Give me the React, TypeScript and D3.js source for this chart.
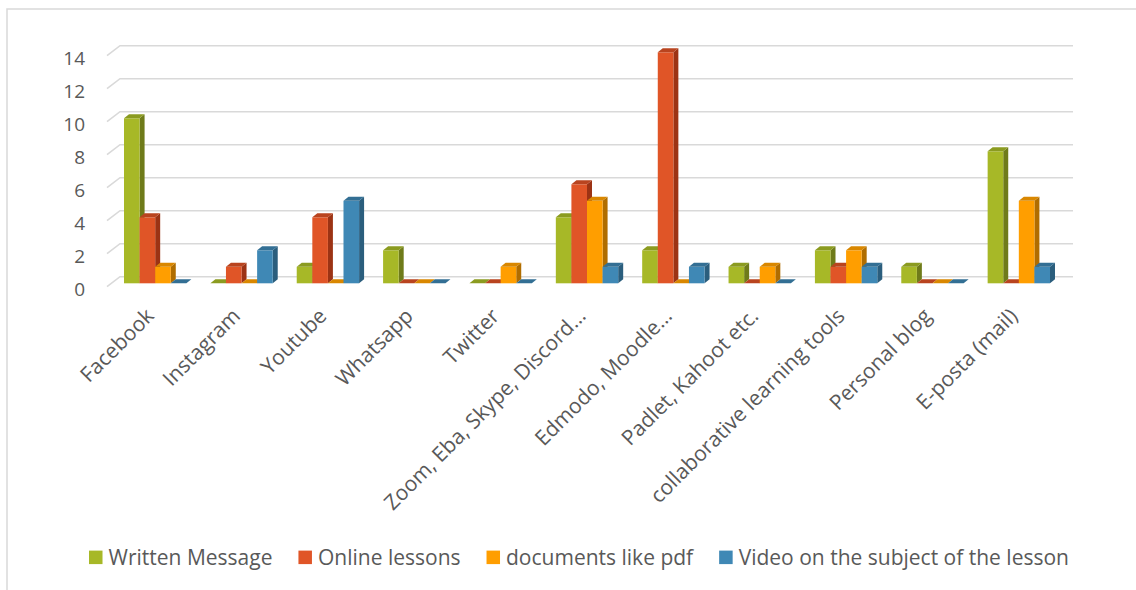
import * as d3 from "d3";
import { useEffect, useRef } from "react";

const categories = [
  "Facebook",
  "Instagram",
  "Youtube",
  "Whatsapp",
  "Twitter",
  "Zoom, Eba, Skype, Discord…",
  "Edmodo, Moodle…",
  "Padlet, Kahoot etc.",
  "collaborative learning tools",
  "Personal blog",
  "E-posta (mail)",
];
const seriesNames = [
  "Written Message",
  "Online lessons",
  "documents like pdf",
  "Video on the subject of the lesson",
];
const writtenMessage = [10, 0, 1, 2, 0, 4, 2, 1, 2, 1, 8];
const onlineLessons = [4, 1, 4, 0, 0, 6, 14, 0, 1, 0, 0];
const documentsPdf = [1, 0, 0, 0, 1, 5, 0, 1, 2, 0, 5];
const videoLesson = [0, 2, 5, 0, 0, 1, 1, 0, 1, 0, 1];
const yTicks = [0, 2, 4, 6, 8, 10, 12, 14];

// front, side, top
const palette = [
  ["#a7b827", "#6f7b1a", "#8b9b20"],
  ["#e05527", "#9c3314", "#b9441f"],
  ["#ff9e00", "#b06d00", "#d98700"],
  ["#3f88b5", "#2b5e7d", "#336f94"],
];

const FONT = "'Open Sans', sans-serif";
const TEXT = "#595959";
const GRID = "#d9d9d9";

const App = () => {
  const ref = useRef<SVGSVGElement | null>(null);

  useEffect(() => {
    const svg = d3.select(ref.current);
    svg.selectAll("*").remove();

    const series = [writtenMessage, onlineLessons, documentsPdf, videoLesson];

    // outer frame
    svg
      .append("rect")
      .attr("x", 7)
      .attr("y", 9)
      .attr("width", 1200)
      .attr("height", 700)
      .attr("fill", "none")
      .attr("stroke", GRID)
      .attr("stroke-width", 1.5);

    const x = d3
      .scaleBand<string>()
      .domain(categories)
      .range([112, 1062])
      .paddingInner(0.278)
      .paddingOuter(0.139);
    const xs = d3
      .scaleBand<string>()
      .domain(seriesNames)
      .range([0, x.bandwidth()]);
    const y = d3.scaleLinear().domain([0, 14]).range([283.3, 52.3]);

    const [r0, r1] = x.range();
    const wallDx = 8,
      wallDy = -6.6;
    const dx = 5,
      dy = -4;

    // gridlines on back wall + floor diagonal
    const grid = svg.append("g");
    yTicks.forEach((v) => {
      const yb = y(v) + wallDy;
      grid
        .append("path")
        .attr(
          "d",
          `M${r0 - 5},${y(v) + 3.4}L${r0 + wallDx},${yb}L${r1 + 11},${yb}`
        )
        .attr("fill", "none")
        .attr("stroke", GRID)
        .attr("stroke-width", 1.6);
    });

    // y tick labels
    svg
      .append("g")
      .selectAll("text")
      .data(yTicks)
      .enter()
      .append("text")
      .attr("x", r0 - 27)
      .attr("y", (d) => y(d) + 12.5)
      .attr("text-anchor", "end")
      .attr("font-family", FONT)
      .attr("font-size", 19)
      .attr("fill", TEXT)
      .text((d) => d);

    // bars
    const bars = svg.append("g");
    const base = y(0);
    categories.forEach((c, i) => {
      seriesNames.forEach((s, j) => {
        const v = series[j][i];
        const x0 = (x(c) as number) + (xs(s) as number);
        const w = xs.bandwidth();
        const top = y(v);
        const col = palette[j];
        // side
        bars
          .append("path")
          .attr(
            "d",
            `M${x0 + w},${top}L${x0 + w + dx},${top + dy}L${x0 + w + dx},${
              base + dy
            }L${x0 + w},${base}Z`
          )
          .attr("fill", col[1]);
        // front
        if (v > 0) {
          bars
            .append("rect")
            .attr("x", x0)
            .attr("y", top)
            .attr("width", w)
            .attr("height", base - top)
            .attr("fill", col[0]);
        }
        // top
        bars
          .append("path")
          .attr(
            "d",
            `M${x0},${top}L${x0 + dx},${top + dy}L${x0 + w + dx},${
              top + dy
            }L${x0 + w},${top}Z`
          )
          .attr("fill", col[2]);
      });
    });

    // category labels
    svg
      .append("g")
      .selectAll("text")
      .data(categories)
      .enter()
      .append("text")
      .attr(
        "transform",
        (d) =>
          `translate(${(x(d) as number) + x.bandwidth() / 2},${
            base + 34
          }) rotate(-45)`
      )
      .attr("text-anchor", "end")
      .attr("font-family", FONT)
      .attr("font-size", 21)
      .attr("fill", TEXT)
      .text((d) => d);

    // legend
    const legend = svg.append("g");
    const items = seriesNames.map((name, j) => {
      const g = legend.append("g");
      g.append("rect")
        .attr("width", 13.5)
        .attr("height", 13.5)
        .attr("y", -6.7)
        .attr("fill", palette[j][0]);
      const t = g
        .append("text")
        .attr("x", 19.5)
        .attr("y", 7.2)
        .attr("font-family", FONT)
        .attr("font-size", 21)
        .attr("fill", TEXT)
        .text(name);
      const len = (t.node() as SVGTextElement).getComputedTextLength();
      return { g, w: 19.5 + len };
    });
    const gap = 26;
    const total = d3.sum(items, (d) => d.w) + gap * (items.length - 1);
    let cx = 579 - total / 2;
    items.forEach((it) => {
      it.g.attr("transform", `translate(${cx},557.3)`);
      cx += it.w + gap;
    });
  }, []);

  return (
    <svg
      ref={ref}
      width={1136}
      height={590}
      style={{ position: "absolute", left: 0, top: 0, background: "#fff" }}
    />
  );
};

export default App;
